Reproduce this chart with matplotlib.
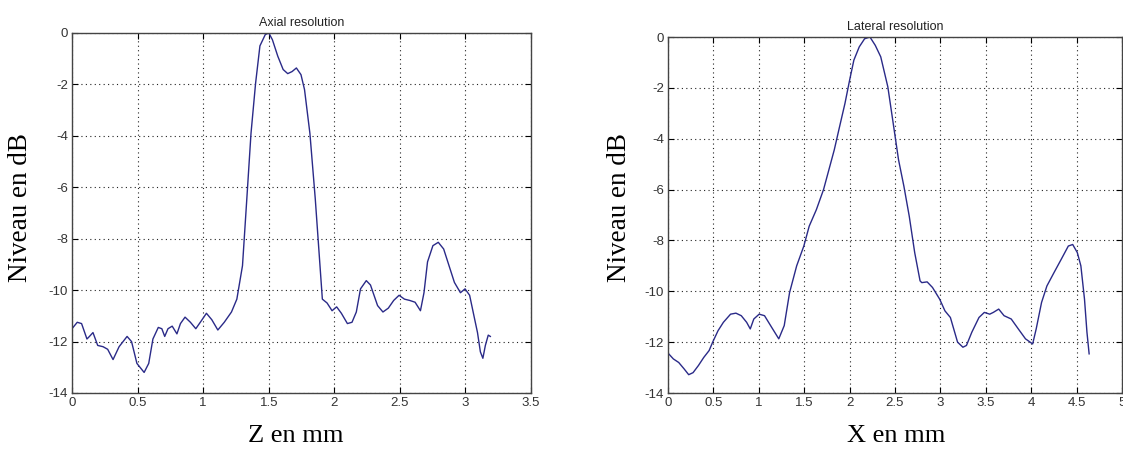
import numpy as np
import matplotlib
matplotlib.use("Agg")
import matplotlib.pyplot as plt

plt.rcParams['axes.unicode_minus'] = False

# Axial profile (Z in mm, level in dB)
z_mm = [0.0, 0.04, 0.073, 0.114, 0.133, 0.16, 0.196, 0.237, 0.272, 0.313,
        0.359, 0.42, 0.454, 0.495, 0.55, 0.585, 0.617, 0.658, 0.685, 0.707,
        0.732, 0.764, 0.8, 0.827, 0.862, 0.903, 0.944, 0.985, 1.025, 1.066,
        1.112, 1.161, 1.216, 1.257, 1.3, 1.333, 1.365, 1.4, 1.433, 1.474,
        1.501, 1.528, 1.569, 1.61, 1.645, 1.678, 1.711, 1.746, 1.773, 1.814,
        1.855, 1.882, 1.909, 1.945, 1.983, 2.018, 2.054, 2.1, 2.135, 2.168,
        2.2, 2.244, 2.276, 2.33, 2.371, 2.412, 2.453, 2.494, 2.535, 2.575,
        2.616, 2.657, 2.684, 2.711, 2.752, 2.793, 2.834, 2.875, 2.916, 2.962,
        2.997, 3.032, 3.065, 3.092, 3.114, 3.133, 3.152, 3.174, 3.19]
z_db = [-11.5, -11.25, -11.3, -11.9, -11.8, -11.65, -12.15, -12.2, -12.3, -12.7,
        -12.2, -11.8, -12.0, -12.85, -13.2, -12.85, -11.9, -11.45, -11.5, -11.8,
        -11.5, -11.4, -11.7, -11.3, -11.05, -11.25, -11.5, -11.2, -10.9, -11.15,
        -11.55, -11.25, -10.85, -10.35, -9.05, -6.45, -3.9, -1.95, -0.5, -0.06,
        0.0, -0.26, -0.9, -1.42, -1.58, -1.5, -1.36, -1.62, -2.2, -3.9,
        -6.45, -8.4, -10.35, -10.5, -10.8, -10.65, -10.9, -11.3, -11.25, -10.85,
        -9.95, -9.63, -9.8, -10.6, -10.85, -10.7, -10.4, -10.2, -10.35, -10.4,
        -10.47, -10.8, -10.1, -8.9, -8.27, -8.14, -8.4, -9.05, -9.7, -10.1,
        -9.95, -10.2, -11.0, -11.65, -12.4, -12.65, -12.15, -11.75, -11.8]

# Lateral profile (X in mm, level in dB)
x_mm = [0.0, 0.059, 0.118, 0.177, 0.228, 0.276, 0.335, 0.394, 0.453, 0.492,
        0.551, 0.61, 0.689, 0.748, 0.807, 0.866, 0.906, 0.945, 1.004, 1.063,
        1.142, 1.22, 1.28, 1.339, 1.417, 1.496, 1.555, 1.634, 1.713, 1.772,
        1.831, 1.89, 1.949, 2.0, 2.047, 2.106, 2.165, 2.224, 2.283, 2.343,
        2.421, 2.48, 2.539, 2.598, 2.657, 2.717, 2.776, 2.795, 2.854, 2.913,
        2.992, 3.05, 3.11, 3.189, 3.248, 3.287, 3.346, 3.425, 3.484, 3.543,
        3.583, 3.642, 3.701, 3.78, 3.858, 3.937, 4.016, 4.055, 4.114, 4.173,
        4.252, 4.331, 4.409, 4.457, 4.508, 4.547, 4.587, 4.614, 4.638]
x_db = [-12.43, -12.66, -12.8, -13.05, -13.28, -13.2, -12.92, -12.6, -12.33, -12.0,
        -11.55, -11.22, -10.9, -10.86, -10.96, -11.22, -11.48, -11.09, -10.9, -10.96,
        -11.42, -11.87, -11.35, -10.05, -9.0, -8.22, -7.44, -6.79, -6.0, -5.22,
        -4.44, -3.52, -2.61, -1.7, -0.91, -0.39, -0.07, 0.0, -0.33, -0.78,
        -1.96, -3.39, -4.83, -5.87, -7.05, -8.48, -9.59, -9.66, -9.63, -9.85,
        -10.31, -10.77, -11.03, -12.0, -12.2, -12.13, -11.61, -11.03, -10.83, -10.9,
        -10.83, -10.7, -10.96, -11.09, -11.48, -11.87, -12.07, -11.48, -10.44, -9.79,
        -9.26, -8.74, -8.22, -8.16, -8.48, -9.0, -10.31, -11.61, -12.46]

y_ticks = [0, -2, -4, -6, -8, -10, -12, -14]
z_ticks = [0, 0.5, 1, 1.5, 2, 2.5, 3, 3.5]
x_ticks = [0, 0.5, 1, 1.5, 2, 2.5, 3, 3.5, 4, 4.5, 5]

line_color = '#2a2a88'
sans = 'Liberation Sans'
serif = 'Liberation Serif'

fig = plt.figure(figsize=(11.23, 4.5), dpi=100)
ax1 = fig.add_axes([72 / 1123, 57 / 450, 459 / 1123, 360 / 450])
ax2 = fig.add_axes([668 / 1123, 57 / 450, 454 / 1123, 356 / 450])


def style(ax, xticks, xmax, title):
    ax.set_xlim(0, xmax)
    ax.set_ylim(-14, 0)
    ax.set_xticks(xticks)
    ax.set_xticklabels([f'{t:g}' for t in xticks])
    ax.set_yticks(y_ticks)
    ax.set_yticklabels([str(t) for t in y_ticks])
    ax.grid(True, linestyle=(0, (1, 3)), color='#222222', linewidth=0.8)
    ax.tick_params(direction='in', length=4, width=0.8, top=True, right=True,
                   labelsize=9.5, labelcolor='#333333', pad=3)
    for lbl in ax.get_xticklabels() + ax.get_yticklabels():
        lbl.set_family(sans)
    for sp in ax.spines.values():
        sp.set_color('#444444')
        sp.set_linewidth(1.0)
    ax.set_title(title, fontsize=9, family=sans, color='#222222', pad=5)


ax1.plot(z_mm, z_db, color=line_color, linewidth=1.0)
style(ax1, z_ticks, 3.5, 'Axial resolution')

ax2.plot(x_mm, x_db, color=line_color, linewidth=1.0)
style(ax2, x_ticks, 5, 'Lateral resolution')

# axis labels in serif, as in the printed figure
fig.text(21 / 1123, 1 - 207 / 450, 'Niveau en dB', rotation=90, ha='center',
         va='center', fontsize=19.5, family=serif)
fig.text(620 / 1123, 1 - 207 / 450, 'Niveau en dB', rotation=90, ha='center',
         va='center', fontsize=19.5, family=serif)
fig.text(296 / 1123, 1 - 436 / 450, 'Z en mm', ha='center', va='center',
         fontsize=19, family=serif)
fig.text(896 / 1123, 1 - 436 / 450, 'X en mm', ha='center', va='center',
         fontsize=19, family=serif)

fig.savefig('out.png', dpi=100)
